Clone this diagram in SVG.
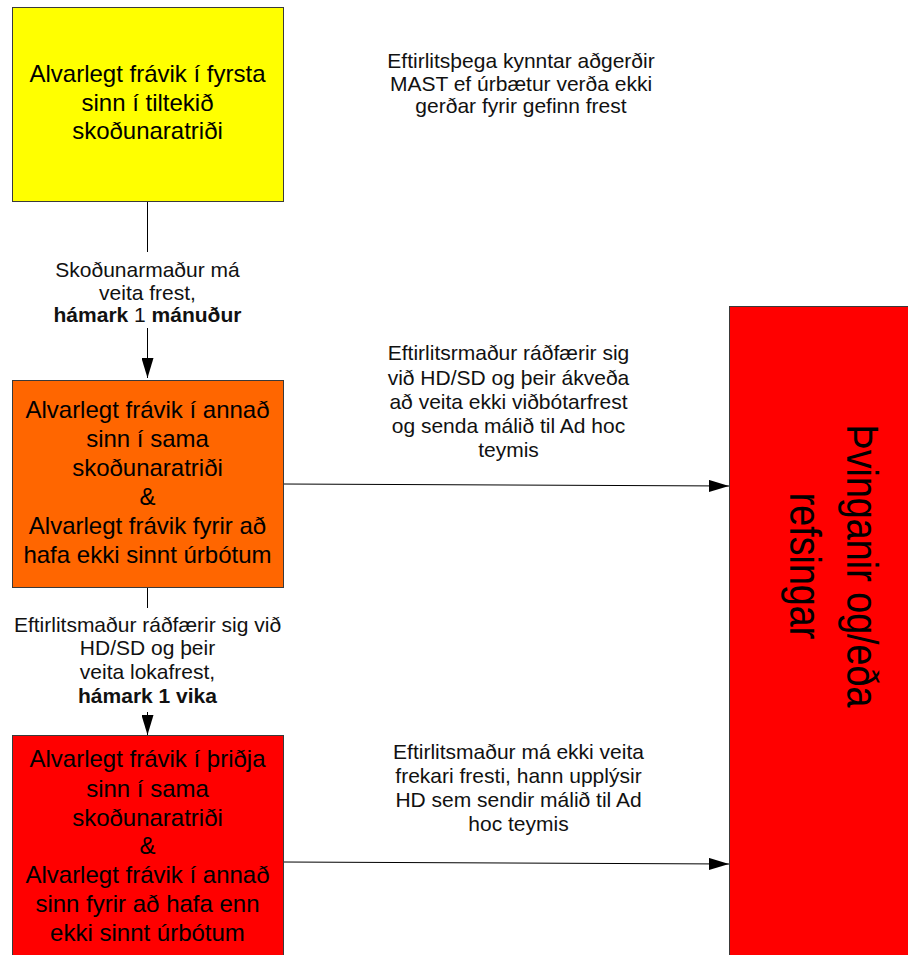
<svg xmlns="http://www.w3.org/2000/svg" width="908" height="955" viewBox="0 0 908 955">
<style>
.box{stroke:#3a3a3a;stroke-width:1}
.bt{font-family:"Liberation Sans",Arial,sans-serif;font-size:24px;fill:#000;text-anchor:middle}
.lt{font-family:"Liberation Sans",Arial,sans-serif;font-size:21px;fill:#111;text-anchor:middle}
.big{font-family:"Liberation Sans",Arial,sans-serif;font-size:45px;fill:#000;text-anchor:middle}
.b{font-weight:bold}
.con{stroke:#000;stroke-width:1;fill:none}
</style>
<defs>
<marker id="ah" markerWidth="20" markerHeight="12" refX="20" refY="6" orient="auto" markerUnits="userSpaceOnUse">
<path d="M0,0 L20,6 L0,12 Z" fill="#000"/>
</marker>
</defs>
<rect width="908" height="955" fill="#fff"/>

<g id="connectors">
<path class="con" d="M147.5,201 V252"/>
<path class="con" d="M147.5,328 V378" marker-end="url(#ah)"/>
<path class="con" d="M147.5,587 V608"/>
<path class="con" d="M147.5,712 V735" marker-end="url(#ah)"/>
<path class="con" d="M283,484 L729,486" marker-end="url(#ah)"/>
<path class="con" d="M283,862 L729,864" marker-end="url(#ah)"/>
</g>

<g id="n1">
<rect class="box" x="12.5" y="7.5" width="271" height="194" fill="#ffff00"/>
<text class="bt"><tspan x="147.5" y="82">Alvarlegt frávik í fyrsta</tspan><tspan x="147.5" y="110.5">sinn í tiltekið</tspan><tspan x="147.5" y="139">skoðunaratriði</tspan></text>
</g>

<g id="n2">
<rect class="box" x="12.5" y="380.5" width="271" height="207" fill="#ff6600"/>
<text class="bt"><tspan x="147.5" y="418">Alvarlegt frávik í annað</tspan><tspan x="147.5" y="447">sinn í sama</tspan><tspan x="147.5" y="476">skoðunaratriði</tspan><tspan x="147.5" y="505">&amp;</tspan><tspan x="147.5" y="534">Alvarlegt frávik fyrir að</tspan><tspan x="147.5" y="563">hafa ekki sinnt úrbótum</tspan></text>
</g>

<g id="n3">
<rect class="box" x="12.5" y="735.5" width="271" height="230" fill="#ff0000"/>
<text class="bt"><tspan x="147.5" y="767">Alvarlegt frávik í þriðja</tspan><tspan x="147.5" y="796.5">sinn í sama</tspan><tspan x="147.5" y="825.5">skoðunaratriði</tspan><tspan x="147.5" y="854">&amp;</tspan><tspan x="147.5" y="883">Alvarlegt frávik í annað</tspan><tspan x="147.5" y="912">sinn fyrir að hafa enn</tspan><tspan x="147.5" y="940.5">ekki sinnt úrbótum</tspan></text>
</g>

<g id="n4">
<rect class="box" x="729.5" y="306.5" width="200" height="670" fill="#ff0000"/>
<g transform="translate(847,566) rotate(90) scale(0.838,1)">
<text class="big" x="0" y="0">Þvinganir og/eða</text>
<text class="big" x="0" y="57">refsingar</text>
</g>
</g>

<g id="labels">
<text class="lt"><tspan x="147.5" y="277">Skoðunarmaður má</tspan><tspan x="147.5" y="299.5">veita frest,</tspan><tspan x="147.5" y="322"><tspan class="b">hámark</tspan> 1 <tspan class="b">mánuður</tspan></tspan></text>
<text class="lt"><tspan x="147.5" y="632">Eftirlitsmaður ráðfærir sig við</tspan><tspan x="147.5" y="655">HD/SD og þeir</tspan><tspan x="147.5" y="678.5">veita lokafrest,</tspan><tspan x="147.5" y="702.5" class="b">hámark 1 vika</tspan></text>
<text class="lt"><tspan x="521" y="68">Eftirlitsþega kynntar aðgerðir</tspan><tspan x="521" y="90.5">MAST ef úrbætur verða ekki</tspan><tspan x="521" y="113">gerðar fyrir gefinn frest</tspan></text>
<text class="lt"><tspan x="508.5" y="360">Eftirlitsrmaður ráðfærir sig</tspan><tspan x="508.5" y="384.5">við HD/SD og þeir ákveða</tspan><tspan x="508.5" y="409">að veita ekki viðbótarfrest</tspan><tspan x="508.5" y="433">og senda málið til Ad hoc</tspan><tspan x="508.5" y="457">teymis</tspan></text>
<text class="lt"><tspan x="518.5" y="759">Eftirlitsmaður má ekki veita</tspan><tspan x="518.5" y="783">frekari fresti, hann upplýsir</tspan><tspan x="518.5" y="807">HD sem sendir málið til Ad</tspan><tspan x="518.5" y="830.5">hoc teymis</tspan></text>
</g>
</svg>
